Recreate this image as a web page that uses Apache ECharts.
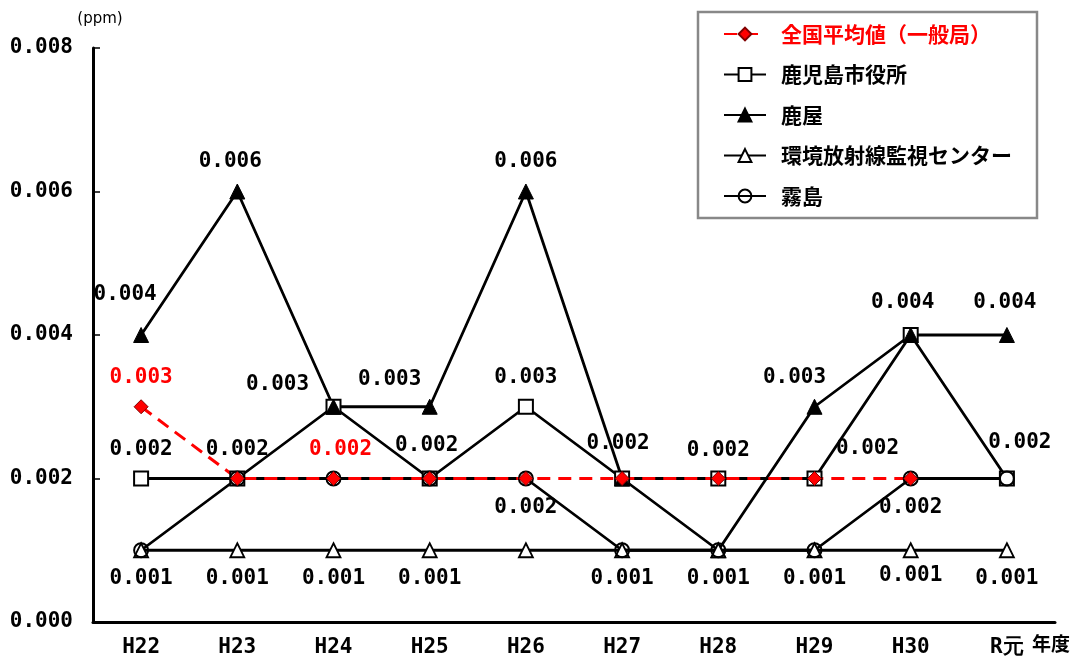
<!DOCTYPE html>
<html>
<head>
<meta charset="utf-8">
<script src="https://cdn.jsdelivr.net/npm/echarts@6/dist/echarts.min.js"></script>
<style>
html,body{margin:0;padding:0;background:#fff;}
#chart{width:1085px;height:658px;}
</style>
</head>
<body>
<div id="chart"></div>
<script>
// ---- data ----
const categories = ['H22','H23','H24','H25','H26','H27','H28','H29','H30','R元'];
const yTicks = [0, 0.002, 0.004, 0.006, 0.008];
const nationalAvg   = [0.003,0.002,0.002,0.002,0.002,0.002,0.002,0.002,0.002,null];
const kagoshimaCity = [0.002,0.002,0.003,0.002,0.003,0.002,0.002,0.002,0.004,0.002];
const kanoya        = [0.004,0.006,0.003,0.003,0.006,0.002,0.001,0.003,0.004,0.004];
const radCenter     = [0.001,0.001,0.001,0.001,0.001,0.001,0.001,0.001,0.001,0.001];
const kirishima     = [0.001,0.002,0.002,0.002,0.002,0.001,0.001,0.001,0.002,0.002];
const seriesNames = ['全国平均値（一般局）','鹿児島市役所','鹿屋','環境放射線監視センター','霧島'];

// ---- label placement (offsets of label centre from point, px) ----
const labelPos = {
  national: {0:[0,-29], 2:[7,-29]},
  city: {0:[0,-29], 1:[0,-29], 3:[-3,-33], 4:[0,-29], 5:[-4,-35], 6:[0,-28], 7:[53,-30], 8:[-8,-32], 9:[13,-36]},
  kanoya: {0:[-16,-40], 1:[-7,-30], 2:[-56,-22], 3:[-40,-27], 4:[0,-30], 7:[-20,-29], 9:[-2,-32]},
  center: {0:[0,28],1:[0,28],2:[0,28],3:[0,28],5:[0,28],6:[0,28],7:[0,28],8:[0,25],9:[0,28]},
  kirishima: {4:[0,29], 8:[0,29]}
};

const numFont = '"DejaVu Sans Mono", "Liberation Mono", monospace';
const cjkFont = '"Noto Sans CJK JP", "Noto Sans", sans-serif';

function build(values, pos, color) {
  return values.map((v, i) => {
    if (pos[i] && v != null) {
      return {value: v, label: {show: true, position: 'inside', offset: pos[i], color: color}};
    }
    return v;
  });
}
const labelBase = {
  show: false,
  fontFamily: numFont, fontSize: 21, fontWeight: 'bold', color: '#000',
  formatter: p => Number(p.value).toFixed(3)
};

const chart = echarts.init(document.getElementById('chart'), null, {renderer: 'canvas'});
const blackLine = {color: '#000', width: 2.8};

chart.setOption({
  animation: false,
  backgroundColor: '#fff',
  grid: {left: 93, right: 30, top: 48, bottom: 36, containLabel: false},
  legend: {
    orient: 'vertical',
    left: 698, top: 12,
    padding: [11, 25, 11, 25],
    itemWidth: 42, itemHeight: 16, itemGap: 18.5,
    borderColor: '#888', borderWidth: 2.5,
    backgroundColor: '#fff',
    textStyle: {fontFamily: cjkFont, fontSize: 21, fontWeight: 'bold', color: '#000', lineHeight: 22, padding: [0,0,0,10]},
    data: [
      {name: seriesNames[0], textStyle: {color: '#ff0000'}},
      {name: seriesNames[1]},
      {name: seriesNames[2]},
      {name: seriesNames[3]},
      {name: seriesNames[4]}
    ]
  },
  xAxis: {
    type: 'category',
    data: categories,
    boundaryGap: true,
    name: '年度',
    nameLocation: 'end',
    nameGap: -23,
    nameTextStyle: {fontFamily: cjkFont, fontSize: 19, fontWeight: 'bold', color: '#000', verticalAlign: 'top', padding: [12,0,0,0]},
    axisLine: {lineStyle: {color: '#000', width: 3}},
    axisTick: {inside: true, length: 7, lineStyle: {color: '#000', width: 1.5}},
    axisLabel: {fontFamily: numFont, fontSize: 21, fontWeight: 'bold', color: '#000', margin: 15},
    splitLine: {show: false}
  },
  yAxis: {
    type: 'value',
    min: 0, max: 0.008, interval: 0.002,
    name: '(ppm)',
    nameLocation: 'end',
    nameGap: 21,
    nameTextStyle: {fontFamily: 'DejaVu Sans', fontSize: 15, color: '#000', padding: [0,0,0,14]},
    axisLine: {show: true, lineStyle: {color: '#000', width: 3}},
    axisTick: {show: true, inside: true, length: 7, lineStyle: {color: '#000', width: 1.5}},
    axisLabel: {fontFamily: numFont, fontSize: 21, fontWeight: 'bold', color: '#000', margin: 20,
      formatter: v => { const t = yTicks.find(x => Math.abs(x - v) < 1e-9); return (t != null ? t : v).toFixed(3); }},
    splitLine: {show: false}
  },
  series: [
    {
      name: seriesNames[1], type: 'line', data: build(kagoshimaCity, labelPos.city, '#000'),
      symbol: 'rect', symbolSize: 14,
      itemStyle: {color: '#fff', borderColor: '#000', borderWidth: 2},
      lineStyle: blackLine, label: labelBase
    },
    {
      name: seriesNames[2], type: 'line', data: build(kanoya, labelPos.kanoya, '#000'),
      symbol: 'triangle', symbolSize: 15,
      itemStyle: {color: '#000', borderColor: '#000', borderWidth: 1},
      lineStyle: blackLine, label: labelBase
    },
    {
      name: seriesNames[3], type: 'line', data: build(radCenter, labelPos.center, '#000'),
      symbol: 'triangle', symbolSize: 14,
      itemStyle: {color: '#fff', borderColor: '#000', borderWidth: 1.8},
      lineStyle: blackLine, label: labelBase
    },
    {
      name: seriesNames[4], type: 'line', data: build(kirishima, labelPos.kirishima, '#000'),
      symbol: 'circle', symbolSize: 14,
      itemStyle: {color: 'rgba(255,255,255,0)', borderColor: '#000', borderWidth: 2},
      lineStyle: blackLine, label: labelBase
    },
    {
      name: seriesNames[0], type: 'line', data: build(nationalAvg, labelPos.national, '#ff0000'),
      symbol: 'diamond', symbolSize: 14,
      itemStyle: {color: '#ff0000', borderColor: '#800000', borderWidth: 1},
      lineStyle: {color: '#ff0000', width: 3, type: [13, 8]},
      label: labelBase
    }
  ]
});
</script>
</body>
</html>
